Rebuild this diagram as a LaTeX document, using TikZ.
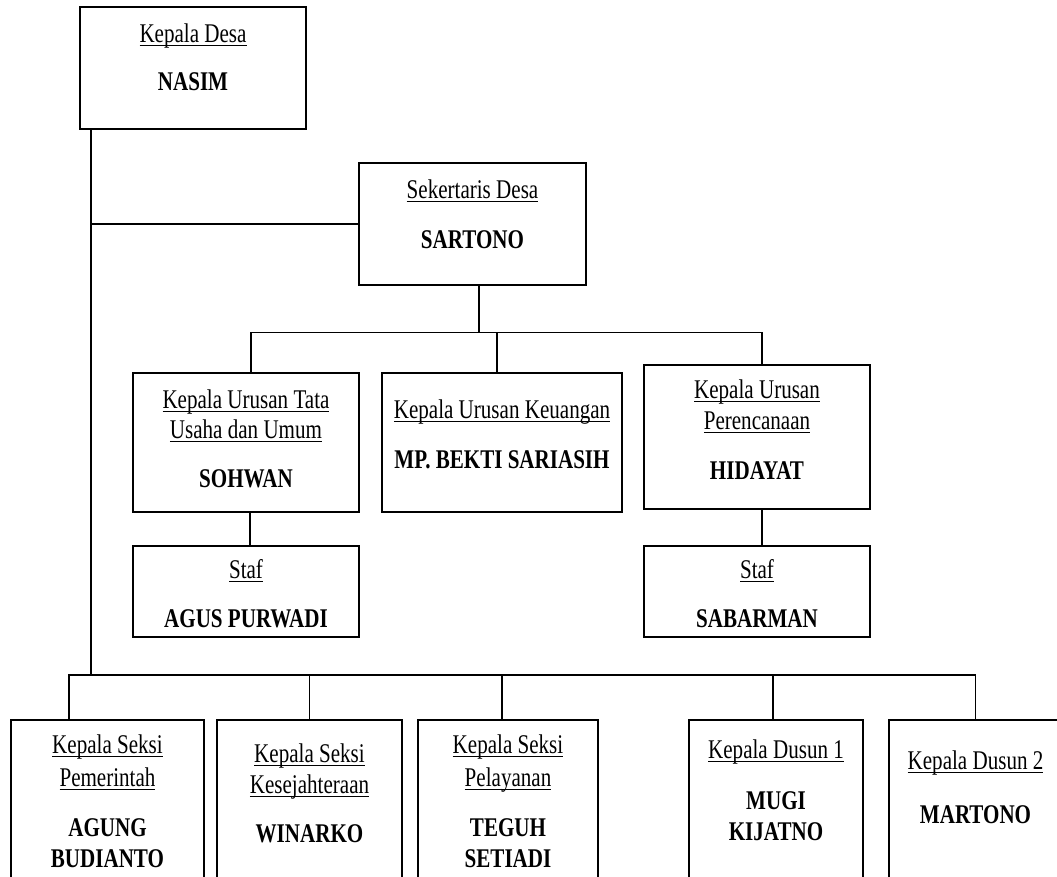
\documentclass[tikz,border=0pt]{standalone}
\usepackage{fontspec}
\setmainfont{Liberation Serif}[FakeStretch=0.78]
\newcommand{\ultext}[1]{\setbox0\hbox{#1}\rlap{\rule[-4pt]{\wd0}{1.2pt}}\box0}
\begin{document}
\begin{tikzpicture}[x=1pt,y=-1pt,
    line width=1.2pt,
    kotak/.style={draw, inner sep=0pt},
    jabatan/.style={anchor=base, inner sep=0pt, font=\fontsize{27}{30}\selectfont},
    nama/.style={anchor=base, inner sep=0pt, font=\fontsize{27}{30}\selectfont\bfseries}
]
    \useasboundingbox (0,0) rectangle (1057,876);
    \clip (0,0) rectangle (1057,876);

    % kotak
    \node[kotak, minimum width=226pt, minimum height=122pt] (kades) at (193,68){};
    \node[kotak, minimum width=227pt, minimum height=122pt] (sekdes) at (472.5,224){};
    \node[kotak, minimum width=226pt, minimum height=139pt] (kaurtu) at (246,442.5){};
    \node[kotak, minimum width=226pt, minimum height=91pt] (staftu) at (246,591.5){};
    \node[kotak, minimum width=240pt, minimum height=139pt] (kaurkeu) at (502,442.5){};
    \node[kotak, minimum width=226pt, minimum height=144pt] (kaurren) at (757,437){};
    \node[kotak, minimum width=226pt, minimum height=91pt] (stafren) at (757,591.5){};
    \node[kotak, minimum width=193pt, minimum height=180pt] (kasipem) at (107.5,810){};
    \node[kotak, minimum width=185pt, minimum height=180pt] (kasikes) at (309.5,810){};
    \node[kotak, minimum width=180pt, minimum height=180pt] (kasipel) at (508,810){};
    \node[kotak, minimum width=174pt, minimum height=180pt] (kadus1) at (776,810){};
    \node[kotak, minimum width=173pt, minimum height=180pt] (kadus2) at (975.5,810){};

    % teks
    \node[jabatan] (kades-j) at (193,42){\ultext{Kepala Desa}};
    \node[nama] (kades-n) at (193,90){NASIM};
    \node[jabatan] (sekdes-j) at (472.5,198){\ultext{Sekertaris Desa}};
    \node[nama] (sekdes-n) at (472.5,248){SARTONO};
    \node[jabatan] (kaurtu-j1) at (246,408){\ultext{Kepala Urusan Tata}};
    \node[jabatan] (kaurtu-j2) at (246,438){\ultext{Usaha dan Umum}};
    \node[nama] (kaurtu-n) at (246,487){SOHWAN};
    \node[jabatan] (staftu-j) at (246,578){\ultext{Staf}};
    \node[nama] (staftu-n) at (246,627){AGUS PURWADI};
    \node[jabatan] (kaurkeu-j) at (502,418){\ultext{Kepala Urusan Keuangan}};
    \node[nama] (kaurkeu-n) at (502,468){MP. BEKTI SARIASIH};
    \node[jabatan] (kaurren-j1) at (757,398){\ultext{Kepala Urusan}};
    \node[jabatan] (kaurren-j2) at (757,429){\ultext{Perencanaan}};
    \node[nama] (kaurren-n) at (757,479){HIDAYAT};
    \node[jabatan] (stafren-j) at (757,578){\ultext{Staf}};
    \node[nama] (stafren-n) at (757,627){SABARMAN};
    \node[jabatan] (kasipem-j1) at (107.5,753){\ultext{Kepala Seksi}};
    \node[jabatan] (kasipem-j2) at (107.5,786){\ultext{Pemerintah}};
    \node[nama] (kasipem-n1) at (107.5,836){AGUNG};
    \node[nama] (kasipem-n2) at (107.5,867){BUDIANTO};
    \node[jabatan] (kasikes-j1) at (309.5,762){\ultext{Kepala Seksi}};
    \node[jabatan] (kasikes-j2) at (309.5,793){\ultext{Kesejahteraan}};
    \node[nama] (kasikes-n) at (309.5,842){WINARKO};
    \node[jabatan] (kasipel-j1) at (508,753){\ultext{Kepala Seksi}};
    \node[jabatan] (kasipel-j2) at (508,786){\ultext{Pelayanan}};
    \node[nama] (kasipel-n1) at (508,836){TEGUH};
    \node[nama] (kasipel-n2) at (508,867){SETIADI};
    \node[jabatan] (kadus1-j) at (776,758){\ultext{Kepala Dusun 1}};
    \node[nama] (kadus1-n1) at (776,809){MUGI};
    \node[nama] (kadus1-n2) at (776,840){KIJATNO};
    \node[jabatan] (kadus2-j) at (975.5,769){\ultext{Kepala Dusun 2}};
    \node[nama] (kadus2-n) at (975.5,823){MARTONO};

    % garis
    \coordinate (tulang) at (91,675);
    \draw (kades.south -| tulang) -- (tulang);
    \draw (sekdes.west) -- (sekdes.west -| tulang);
    \draw ([xshift=6.5pt]sekdes.south) -- ++(0,47) coordinate (bagi);
    \draw ([xshift=5pt]kaurtu.north) |- (bagi) -| ([xshift=5pt]kaurren.north);
    \draw ([xshift=-5pt]kaurkeu.north) -- ([xshift=-5pt]kaurkeu.north |- bagi);
    \draw ([xshift=4pt]kaurtu.south) -- ([xshift=4pt]staftu.north);
    \draw ([xshift=5pt]kaurren.south) -- ([xshift=5pt]stafren.north);
    \draw ([xshift=-38.5pt]kasipem.north) |- (tulang) -| (kadus2.north);
    \draw (kasikes.north) -- (kasikes.north |- tulang);
    \draw ([xshift=-6pt]kasipel.north) -- ([xshift=-6pt]kasipel.north |- tulang);
    \draw ([xshift=-3pt]kadus1.north) -- ([xshift=-3pt]kadus1.north |- tulang);
\end{tikzpicture}
\end{document}
